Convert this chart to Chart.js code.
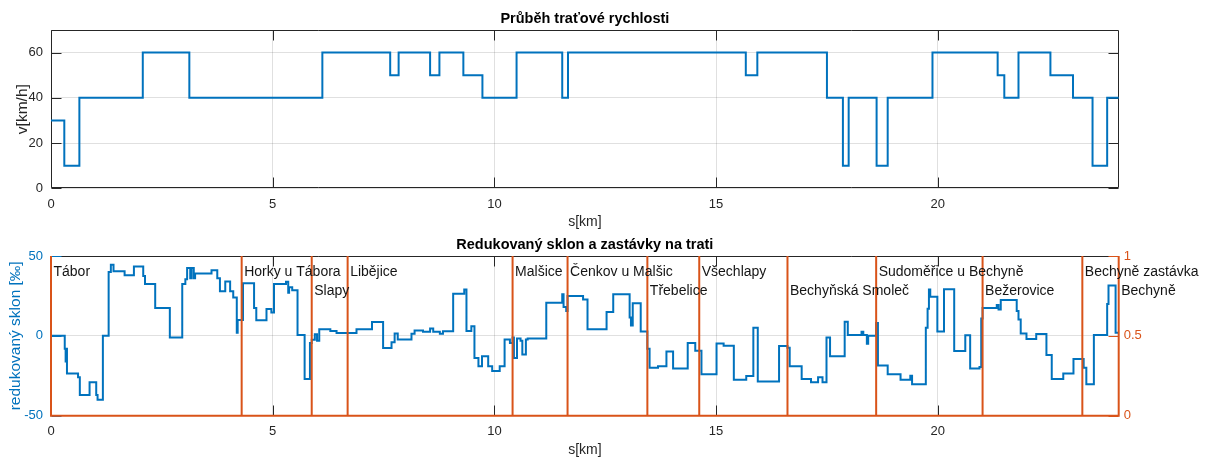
<!DOCTYPE html>
<html>
<head>
<meta charset="utf-8">
<script src="https://cdn.jsdelivr.net/npm/chart.js@4"></script>
<style>
  html, body { margin: 0; padding: 0; background: #ffffff; }
  #wrap { position: relative; width: 1212px; height: 461px; }
  .panel { position: absolute; left: 0; width: 1212px; }
</style>
</head>
<body>
<div id="wrap">
  <div class="panel" style="top:0;height:232px"><canvas id="speedChart"></canvas></div>
  <div class="panel" style="top:232px;height:229px"><canvas id="gradChart"></canvas></div>
</div>
<script>
// ---- track data (km positions, values) ----
const trackEnd = 24.08;

// line speed: km where each speed section starts, and its speed [km/h]
const speedKm  = [0, 0.30, 0.64, 2.07, 3.12, 6.12, 7.65, 7.84, 8.55, 8.76, 9.30, 9.73, 10.50, 11.53, 11.66,
                  15.67, 15.93, 17.50, 17.86, 17.99, 18.62, 18.87, 19.88, 21.35, 21.50, 21.82, 22.54, 23.05, 23.49, 23.82];
const speedVal = [30, 10, 40, 60, 40, 60, 50, 60, 50, 60, 50, 40, 60, 40, 60,
                  50, 60, 40, 10, 40, 10, 40, 60, 50, 40, 60, 50, 40, 10, 40];

// reduced gradient: km where each section starts, and its gradient [‰]
const gradKm = [0, 0.31, 0.33, 0.34, 0.36, 0.61, 0.65, 0.87, 1.02, 1.05, 1.17, 1.30, 1.35, 1.41, 1.66, 1.87, 2.08, 2.12, 2.35, 2.68,
                2.96, 3.03, 3.07, 3.14, 3.17, 3.22, 3.25, 3.62, 3.75, 3.81, 3.93, 4.04, 4.11, 4.19, 4.21, 4.33, 4.58, 4.63, 4.86, 4.97,
                5.03, 5.30, 5.35, 5.37, 5.44, 5.56, 5.72, 5.84, 5.88, 5.95, 6.00, 6.05, 6.30, 6.44, 6.89, 7.24, 7.49, 7.68, 7.75, 7.82,
                8.13, 8.20, 8.39, 8.55, 8.62, 8.77, 8.84, 9.07, 9.32, 9.37, 9.48, 9.55, 9.64, 9.72, 9.86, 9.95, 10.12, 10.23, 10.35, 10.41,
                10.44, 10.51, 10.59, 10.63, 10.71, 10.75, 11.17, 11.53, 11.56, 11.62, 11.65, 12.00, 12.10, 12.53, 12.68, 13.05, 13.08, 13.12, 13.30, 13.45,
                13.50, 13.69, 13.88, 14.03, 14.36, 14.53, 14.67, 15.01, 15.17, 15.40, 15.68, 15.84, 15.94, 16.42, 16.61, 16.66, 16.93, 17.14, 17.30, 17.40,
                17.49, 17.57, 17.90, 17.97, 18.28, 18.32, 18.40, 18.43, 18.61, 18.65, 18.87, 19.16, 19.38, 19.42, 19.73, 19.77, 19.80, 19.83, 19.99, 20.14,
                20.37, 20.62, 20.73, 20.94, 20.98, 21.01, 21.33, 21.37, 21.42, 21.78, 21.82, 21.87, 22.00, 22.22, 22.45, 22.57, 22.83, 23.06, 23.29, 23.35,
                23.52, 23.82, 23.85, 24.01];
const gradVal = [0, -8, -16, -8, -23.5, -26, -37, -29, -37, -40, 0, 40, 44.5, 40.5, 38, 43.5, 37.5, 32.5, 17.5, -1,
                 32.5, 35.5, 42.5, 36, 42.5, 36, 39, 41, 36, 28, 34, 28, 24, 2, 10, 33, 17.5, 9.8, 16.8, 14.6,
                 32.5, 33.8, 27, 30.5, 28.5, 0.5, -27, -4.4, -2.5, 1, -3, 4.2, 3, 1.8, 4.1, 8.6, -7.6, -4, 1.5, -2.3,
                 1.3, 3.4, 2.5, 4.6, 2.5, 1.3, 2.9, 26.4, 29, 3, 6, -13.8, -19, -12.7, -19, -22, -19, -2.3, -4.4, -1,
                 -13.8, -1.7, -3, -11.7, -2.3, -1.7, 20.7, 26, 18, 15.5, 25, 22.8, 4.1, 15, 26, 11.5, 6.5, 20.4, 2.7, -8,
                 -20, -19, -9.8, -20.5, -4.5, -9.3, -24, -4.8, -6.2, -27.5, -25.2, 5, -28.6, -6.4, -7.5, -19, -27, -29, -26, -29,
                 -1, -12.7, 8.8, 0.5, 2.5, 0.5, -5, 0, 8, -18.5, -24, -27.5, -25, -30.3, 5, 17, 29, 24.5, 2.7, 29.2,
                 -9.5, 0.4, -20.5, -19.5, 10.9, 17.5, 19.3, 16.5, 22.5, 15.5, 10.3, 1.5, -2, 1.2, -12, -27, -23.5, -14.5, -20, -30.3,
                 0.5, 20, 31.5, 2];

// stops along the line
const stopNames = ['Tábor', 'Horky u Tábora', 'Slapy', 'Libějice', 'Malšice', 'Čenkov u Malšic', 'Třebelice',
                   'Všechlapy', 'Bechyňská Smoleč', 'Sudoměřice u Bechyně', 'Bežerovice', 'Bechyně zastávka', 'Bechyně'];
const stopKm    = [0, 4.30, 5.88, 6.69, 10.41, 11.65, 13.45, 14.62, 16.61, 18.61, 21.01, 23.26, 24.08];
const stopLabelLevel = [0.9, 0.9, 0.78, 0.9, 0.9, 0.9, 0.78, 0.9, 0.78, 0.9, 0.78, 0.9, 0.78];

// tick values
const kmTicks    = [0, 5, 10, 15, 20];
const speedTicks = [0, 20, 40, 60];
const gradTicks  = [-50, 0, 50];
const stopTicks  = [0, 0.5, 1];

// ---- styling ----
const BLUE = '#0072BD';
const ORANGE = '#D95319';
const AXIS = '#262626';
const GRID = 'rgba(38,38,38,0.14)';
const FONT = '"Liberation Sans", Arial, Helvetica, sans-serif';

// step series: each value holds from its km to the next km
function stepPoints(kms, vals, end) {
  const pts = kms.map((k, i) => ({ x: k, y: vals[i] }));
  pts.push({ x: end, y: vals[vals.length - 1] });
  return pts;
}
// stop markers: a spike from 0 to 1 at every stop
function stopPoints(kms) {
  const pts = [];
  kms.forEach(k => { pts.push({ x: k, y: 0 }, { x: k, y: 1 }, { x: k, y: 0 }); });
  return pts;
}
const fixTicks = vals => scale => { scale.ticks = vals.map(v => ({ value: v })); };
const plainLabel = v => String(v);

// box around the plot area with inward tick marks
const framePlugin = {
  id: 'frame',
  beforeDatasetsDraw(chart, args, o) {
    const { ctx, chartArea: a } = chart;
    const L = Math.round(a.left) + 0.5, R = Math.round(a.right) - 0.5;
    const T = Math.round(a.top) + 0.5, B = Math.round(a.bottom) - 0.5;
    const len = 10;
    ctx.save();
    ctx.lineWidth = 1;
    const seg = (c, x1, y1, x2, y2) => { ctx.strokeStyle = c; ctx.beginPath(); ctx.moveTo(x1, y1); ctx.lineTo(x2, y2); ctx.stroke(); };
    seg(o.top, L, T, R, T);
    seg(o.bottom, L, B, R, B);
    seg(o.left, L, T, L, B);
    seg(o.right, R, T, R, B);
    const xs = chart.scales.x;
    xs.ticks.forEach(t => {
      const px = Math.round(xs.getPixelForValue(t.value)) + 0.5;
      seg(o.top, px, T, px, T + len);
      seg(o.bottom, px, B, px, B - len);
    });
    const yl = chart.scales.y;
    yl.ticks.forEach(t => {
      const py = Math.round(yl.getPixelForValue(t.value)) + 0.5;
      seg(o.left, L, py, L + len, py);
      if (!chart.scales.y1) seg(o.right, R, py, R - len, py);
    });
    if (chart.scales.y1) {
      const yr = chart.scales.y1;
      yr.ticks.forEach(t => {
        const py = Math.round(yr.getPixelForValue(t.value)) + 0.5;
        seg(o.right, R, py, R - len, py);
      });
    }
    ctx.restore();
  }
};

// stop names written next to their markers
const stopLabelPlugin = {
  id: 'stopLabels',
  afterDraw(chart) {
    const { ctx } = chart;
    const xs = chart.scales.x, yr = chart.scales.y1;
    ctx.save();
    ctx.font = '14px ' + FONT;
    ctx.fillStyle = '#141414';
    ctx.textAlign = 'left';
    ctx.textBaseline = 'middle';
    stopNames.forEach((name, i) => {
      ctx.fillText(name, xs.getPixelForValue(stopKm[i]) + 2.5, yr.getPixelForValue(stopLabelLevel[i]));
    });
    ctx.restore();
  }
};

Chart.defaults.font.family = FONT;
Chart.defaults.animation = false;

const tickFont = { size: 13 };
const xLabelFont = { size: 14 };
const yLabelFont = { size: 15.5 };
const titleFont = { size: 14.5, weight: 'bold' };

function xAxis(height, titlePad) {
  return {
    type: 'linear', min: 0, max: trackEnd,
    afterBuildTicks: fixTicks(kmTicks),
    afterFit: s => { s.height = height; },
    grid: { color: GRID, drawTicks: false },
    border: { display: false },
    ticks: { padding: 8, color: AXIS, font: tickFont, maxRotation: 0, callback: plainLabel },
    title: { display: true, text: 's[km]', color: AXIS, font: xLabelFont, padding: { top: 0, bottom: titlePad } }
  };
}

// ---- speed profile ----
new Chart(document.getElementById('speedChart'), {
  type: 'line',
  data: {
    datasets: [{
      data: stepPoints(speedKm, speedVal, trackEnd),
      stepped: 'before', borderColor: BLUE, borderWidth: 2, pointRadius: 0, fill: false, clip: 3
    }]
  },
  options: {
    responsive: true, maintainAspectRatio: false,
    layout: { padding: { left: 0, right: 93.3, top: 0, bottom: 0 } },
    events: [],
    plugins: {
      legend: { display: false }, tooltip: { enabled: false },
      title: { display: true, fullSize: false, text: 'Průběh traťové rychlosti', color: '#000', font: titleFont, padding: { top: 10.3, bottom: 2.3 } },
      frame: { top: AXIS, bottom: AXIS, left: AXIS, right: AXIS }
    },
    scales: {
      x: xAxis(43.7, 1.8),
      y: {
        min: 0, max: 70,
        afterBuildTicks: fixTicks(speedTicks),
        afterFit: s => { s.width = 51; },
        grid: { color: GRID, drawTicks: false },
        border: { display: false },
        ticks: { padding: 8, color: AXIS, font: tickFont, callback: plainLabel },
        title: { display: true, text: 'v[km/h]', color: AXIS, font: yLabelFont, padding: { top: 13.2, bottom: 0 } }
      }
    }
  },
  plugins: [framePlugin]
});

// ---- reduced gradient and stops ----
new Chart(document.getElementById('gradChart'), {
  type: 'line',
  data: {
    datasets: [
      {
        data: stopPoints(stopKm), yAxisID: 'y1', order: 0,
        borderColor: ORANGE, borderWidth: 2, pointRadius: 0, fill: false, clip: 3
      },
      {
        data: stepPoints(gradKm, gradVal, trackEnd), yAxisID: 'y', order: 1,
        stepped: 'before', borderColor: BLUE, borderWidth: 2, pointRadius: 0, fill: false, clip: 3
      }
    ]
  },
  options: {
    responsive: true, maintainAspectRatio: false,
    layout: { padding: 0 },
    events: [],
    plugins: {
      legend: { display: false }, tooltip: { enabled: false },
      title: { display: true, fullSize: false, text: 'Redukovaný sklon a zastávky na trati', color: '#000', font: titleFont, padding: { top: 4.3, bottom: 2.3 } },
      frame: { top: AXIS, bottom: AXIS, left: BLUE, right: ORANGE }
    },
    scales: {
      x: xAxis(45.3, 2.2),
      y: {
        position: 'left', min: -50, max: 50,
        afterBuildTicks: fixTicks(gradTicks),
        afterFit: s => { s.width = 51; },
        grid: { color: GRID, drawTicks: false },
        border: { display: false },
        ticks: { padding: 8, color: BLUE, font: tickFont, callback: plainLabel },
        title: { display: true, text: 'redukovaný sklon [‰]', color: BLUE, font: yLabelFont, padding: { top: 6.6, bottom: 0 } }
      },
      y1: {
        position: 'right', min: 0, max: 1,
        afterBuildTicks: fixTicks(stopTicks),
        afterFit: s => { s.width = 93.3; },
        grid: { display: false, drawTicks: false },
        border: { display: false },
        ticks: { padding: 5, color: ORANGE, font: tickFont, callback: plainLabel }
      }
    }
  },
  plugins: [framePlugin, stopLabelPlugin]
});
</script>
</body>
</html>
